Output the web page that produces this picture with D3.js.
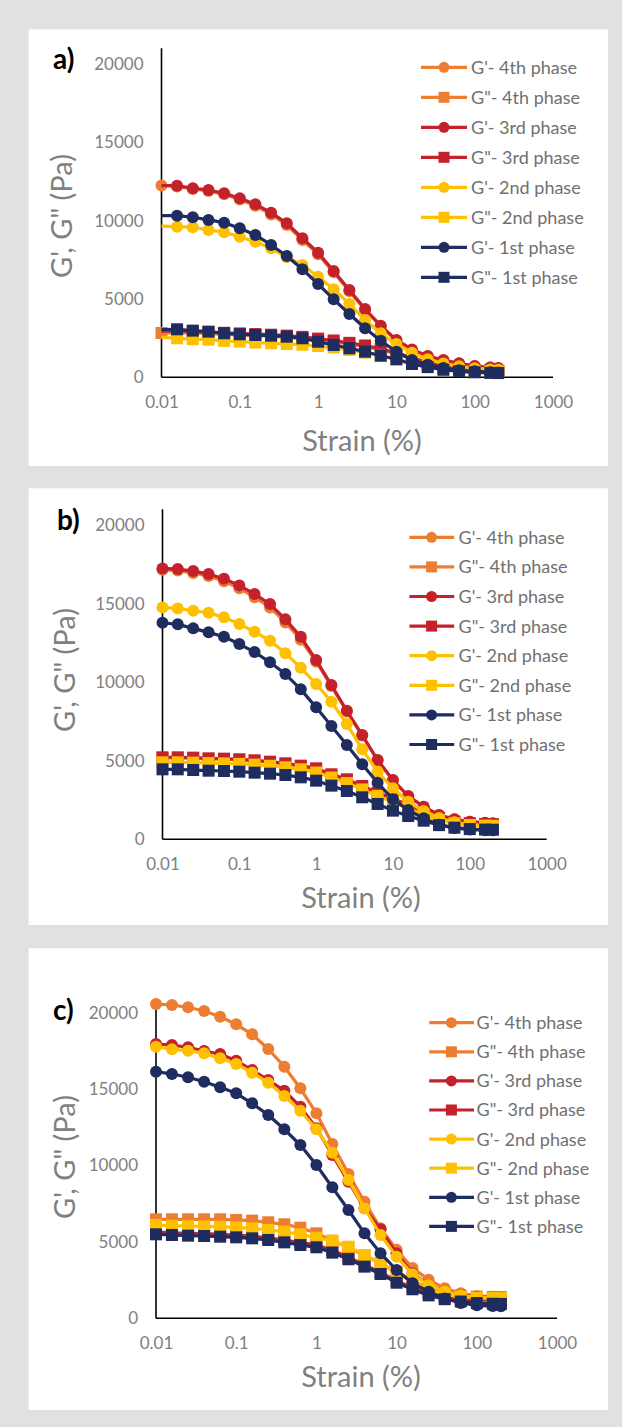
<!DOCTYPE html>
<html>
<head>
<meta charset="utf-8">
<script src="https://cdn.jsdelivr.net/npm/d3@7"></script>
<style>
  html, body { margin: 0; padding: 0; background: #e0e1e3; }
  svg { display: block; }
</style>
</head>
<body>
<svg id="fig" width="622" height="1427"></svg>
<script>
// Strain sweep points (%): five per decade from 0.01 up to 158, plus the final 200
const strain = [0.01, 0.0158, 0.0251, 0.0398, 0.0631, 0.1, 0.158, 0.251, 0.398, 0.631,
                1, 1.58, 2.51, 3.98, 6.31, 10, 15.8, 25.1, 39.8, 63.1, 100, 158, 200];

const seriesNames = ["G'- 4th phase", "G\"- 4th phase", "G'- 3rd phase", "G\"- 3rd phase",
                     "G'- 2nd phase", "G\"- 2nd phase", "G'- 1st phase", "G\"- 1st phase"];

const xTickValues = [0.01, 0.1, 1, 10, 100, 1000];
const xTickLabels = ["0.01", "0.1", "1", "10", "100", "1000"];
const yTickValues = [0, 5000, 10000, 15000, 20000];

// ---- Panel a (Pa) ----
const a_Gp_4th  = [12250, 12180, 12020, 11900, 11680, 11350, 10950, 10400, 9720, 8760, 7850, 6700, 5500, 4300, 3250, 2350, 1750, 1340, 1080, 880, 700, 620, 580];
const a_Gpp_4th = [2830, 2850, 2820, 2780, 2740, 2700, 2660, 2620, 2560, 2490, 2390, 2270, 2120, 1950, 1750, 1500, 1200, 920, 700, 550, 470, 430, 410];
const a_Gp_3rd  = [12235, 12235, 12069, 11960, 11750, 11430, 11047, 10511, 9834, 8876, 7957, 6788, 5575, 4361, 3295, 2382, 1780, 1360, 1100, 900, 720, 630, 590];
const a_Gpp_3rd = [2950, 2960, 2930, 2890, 2840, 2800, 2760, 2720, 2660, 2580, 2470, 2350, 2200, 2030, 1820, 1560, 1250, 950, 720, 560, 470, 420, 400];
const a_Gp_2nd  = [9650, 9617, 9578, 9406, 9257, 8978, 8659, 8233, 7663, 7171, 6424, 5619, 4681, 3659, 2810, 2126, 1571, 1150, 880, 700, 580, 500, 480];
const a_Gpp_2nd = [2550, 2490, 2430, 2400, 2330, 2280, 2220, 2170, 2130, 2080, 2000, 1900, 1750, 1580, 1380, 1150, 920, 720, 560, 450, 400, 380, 370];
const a_Gp_1st  = [10319, 10319, 10217, 10045, 9872, 9515, 9087, 8448, 7746, 6896, 5958, 4979, 4042, 3129, 2337, 1635, 1100, 800, 600, 450, 380, 330, 310];
const a_Gpp_1st = [3050, 3065, 2979, 2915, 2810, 2746, 2701, 2657, 2593, 2490, 2273, 2063, 1852, 1635, 1379, 1149, 849, 650, 480, 380, 320, 280, 270];

// ---- Panel b (Pa) ----
const b_Gp_4th  = [17150, 17100, 16950, 16750, 16420, 15980, 15400, 14750, 13800, 12700, 11300, 9750, 8130, 6600, 5020, 3760, 2740, 2070, 1540, 1270, 1110, 1040, 1010];
const b_Gpp_4th = [5180, 5180, 5160, 5120, 5100, 5060, 5000, 4910, 4800, 4650, 4480, 4100, 3780, 3360, 2940, 2580, 2130, 1690, 1340, 1110, 1010, 970, 950];
const b_Gp_3rd  = [17239, 17195, 17068, 16876, 16578, 16158, 15604, 14968, 13995, 12888, 11406, 9816, 8183, 6635, 5045, 3773, 2754, 2078, 1546, 1272, 1120, 1050, 1020];
const b_Gpp_3rd = [5216, 5216, 5195, 5152, 5131, 5089, 5025, 4940, 4834, 4686, 4517, 4135, 3817, 3392, 2968, 2608, 2150, 1700, 1350, 1120, 1020, 980, 960];
const b_Gp_2nd  = [14758, 14694, 14542, 14415, 14122, 13696, 13206, 12634, 11832, 10916, 9879, 8753, 7335, 5725, 4300, 3244, 2392, 1800, 1350, 1080, 930, 870, 850];
const b_Gpp_2nd = [4900, 4900, 4880, 4850, 4830, 4800, 4750, 4680, 4580, 4450, 4250, 3930, 3580, 3170, 2760, 2380, 1960, 1560, 1220, 1010, 910, 870, 860];
const b_Gp_1st  = [13779, 13677, 13422, 13168, 12888, 12424, 11915, 11260, 10515, 9542, 8397, 7207, 5999, 4771, 3600, 2544, 1864, 1336, 930, 720, 620, 580, 570];
const b_Gpp_1st = [4453, 4453, 4408, 4366, 4345, 4303, 4240, 4176, 4091, 3944, 3732, 3414, 3075, 2672, 2248, 1823, 1482, 1185, 900, 740, 650, 620, 610];

// ---- Panel c (Pa) ----
const c_Gp_4th  = [20569, 20504, 20353, 20111, 19738, 19241, 18586, 17624, 16466, 15052, 13416, 11407, 9444, 7631, 5890, 4490, 3290, 2530, 1960, 1640, 1450, 1400, 1380];
const c_Gpp_4th = [6479, 6479, 6479, 6479, 6479, 6435, 6391, 6283, 6152, 5930, 5563, 5078, 4646, 4100, 3599, 3050, 2450, 1980, 1650, 1480, 1420, 1400, 1390];
const c_Gp_3rd  = [17952, 17887, 17736, 17494, 17298, 16860, 16249, 15595, 14895, 13848, 12435, 10687, 8940, 7199, 5825, 4254, 2945, 2200, 1750, 1500, 1400, 1350, 1330];
const c_Gpp_3rd = [5650, 5600, 5560, 5540, 5490, 5450, 5380, 5270, 5120, 4950, 4800, 4450, 4000, 3500, 3000, 2450, 2000, 1650, 1400, 1250, 1200, 1180, 1170];
const c_Gp_2nd  = [17779, 17605, 17517, 17343, 17016, 16643, 16075, 15419, 14548, 13587, 12369, 10838, 9051, 7199, 5452, 4035, 2890, 2180, 1750, 1500, 1350, 1300, 1290];
const c_Gpp_2nd = [6106, 6060, 6040, 6020, 5995, 5951, 5890, 5779, 5668, 5497, 5275, 5078, 4686, 4143, 3599, 2945, 2400, 1900, 1560, 1400, 1350, 1330, 1320];
const c_Gp_1st  = [16139, 15988, 15772, 15484, 15118, 14725, 14071, 13305, 12369, 11342, 10033, 8573, 7088, 5563, 4254, 3161, 2291, 1745, 1300, 1000, 850, 800, 790];
const c_Gpp_1st = [5497, 5452, 5408, 5386, 5342, 5299, 5234, 5124, 4970, 4795, 4646, 4297, 3861, 3381, 2900, 2330, 1898, 1500, 1250, 1100, 1000, 950, 940];

// Series styling, in legend / drawing order (later series are painted on top)
const seriesColors  = ["#ED7D31", "#ED7D31", "#C3212B", "#C3212B", "#FFC000", "#FFC000", "#1E2C60", "#1E2C60"];
const seriesMarkers = ["circle", "square", "circle", "square", "circle", "square", "circle", "square"];

const panels = [
  { tag: "a)", series: [a_Gp_4th, a_Gpp_4th, a_Gp_3rd, a_Gpp_3rd, a_Gp_2nd, a_Gpp_2nd, a_Gp_1st, a_Gpp_1st],
    firstMarker: [0, 0, 1, 1, 1, 1, 1, 1],
    box: [28.6, 29.3, 579.4, 436.7],
    xRange: [161.5, 553], y0: 377.3, y20k: 64, yTop: 21000,
    tagPos: [53, 69], yTitle: [61.5, 216], xTitle: [362, 441],
    legend: { x1: 421, x2: 467, mx: 444, tx: 471, y0: 67.3, dy: 30 } },
  { tag: "b)", series: [b_Gp_4th, b_Gpp_4th, b_Gp_3rd, b_Gpp_3rd, b_Gp_2nd, b_Gpp_2nd, b_Gp_1st, b_Gpp_1st],
    firstMarker: [0, 0, 0, 0, 0, 0, 0, 0],
    box: [28.6, 488.3, 579.4, 436.7],
    xRange: [162.5, 546.6], y0: 839.3, y20k: 525, yTop: 21000,
    tagPos: [57, 530], yTitle: [65, 670], xTitle: [361, 898],
    legend: { x1: 409.4, x2: 454.2, mx: 431.6, tx: 458.5, y0: 537.3, dy: 29.6 } },
  { tag: "c)", series: [c_Gp_4th, c_Gpp_4th, c_Gp_3rd, c_Gpp_3rd, c_Gp_2nd, c_Gpp_2nd, c_Gp_1st, c_Gpp_1st],
    firstMarker: [0, 0, 0, 0, 0, 0, 0, 0],
    box: [28.6, 948.3, 579.4, 461.7],
    xRange: [156, 557], y0: 1318.3, y20k: 1012.7, yTop: 20800,
    tagPos: [53, 1020], yTitle: [65, 1157], xTitle: [361, 1377],
    legend: { x1: 429.2, x2: 474, mx: 451.4, tx: 476.5, y0: 1022.7, dy: 29.1 } }
];

const FONT = "Lato, 'Open Sans', sans-serif";
const svg = d3.select("#fig");

function drawMarker(g, shape, cx, cy, color, r) {
  if (shape === "circle") {
    g.append("circle").attr("cx", cx).attr("cy", cy).attr("r", r).attr("fill", color);
  } else {
    g.append("rect").attr("x", cx - r).attr("y", cy - r)
      .attr("width", 2 * r).attr("height", 2 * r).attr("fill", color);
  }
}

panels.forEach(p => {
  const [bx, by, bw, bh] = p.box;
  svg.append("rect").attr("x", bx).attr("y", by).attr("width", bw).attr("height", bh).attr("fill", "#ffffff");

  const x = d3.scaleLog().domain([0.01, 1000]).range(p.xRange);
  const y = d3.scaleLinear().domain([0, 20000]).range([p.y0, p.y20k]);
  const g = svg.append("g");

  // y tick labels
  const yAxis = g.append("g").attr("transform", `translate(${x(0.01)},0)`)
    .call(d3.axisLeft(y).tickValues(yTickValues).tickSize(0).tickPadding(18).tickFormat(d3.format("d")));
  yAxis.select(".domain").remove();
  yAxis.selectAll("text").attr("font-family", FONT).attr("font-size", 17).attr("fill", "#808080");

  // x tick labels
  const xAxis = g.append("g").attr("transform", `translate(0,${y(0)})`)
    .call(d3.axisBottom(x).tickValues(xTickValues).tickSize(0).tickPadding(19)
      .tickFormat((d, i) => xTickLabels[i]));
  xAxis.select(".domain").remove();
  xAxis.selectAll("text").attr("font-family", FONT).attr("font-size", 17).attr("fill", "#808080");

  // axis lines
  g.append("line").attr("x1", x(0.01)).attr("x2", x(0.01)).attr("y1", y(0)).attr("y2", y(p.yTop))
    .attr("stroke", "#000").attr("stroke-width", 1.6);
  g.append("line").attr("x1", x(0.01)).attr("x2", x(1000)).attr("y1", y(0)).attr("y2", y(0))
    .attr("stroke", "#000").attr("stroke-width", 1.6);

  // data series
  const line = d3.line().x((d, i) => x(strain[i])).y(d => y(d));
  p.series.forEach((vals, s) => {
    const color = seriesColors[s];
    const sg = g.append("g");
    sg.append("path").datum(vals).attr("d", line).attr("fill", "none")
      .attr("stroke", color).attr("stroke-width", 3.2).attr("stroke-linejoin", "round");
    vals.forEach((v, i) => {
      if (i < p.firstMarker[s]) return;
      drawMarker(sg, seriesMarkers[s], x(strain[i]), y(v), color, 6);
    });
  });

  // legend
  const L = p.legend;
  seriesNames.forEach((name, s) => {
    const ly = L.y0 + s * L.dy;
    const lg = g.append("g");
    lg.append("line").attr("x1", L.x1).attr("x2", L.x2).attr("y1", ly).attr("y2", ly)
      .attr("stroke", seriesColors[s]).attr("stroke-width", 3.2);
    drawMarker(lg, seriesMarkers[s], L.mx, ly, seriesColors[s], 5.5);
    lg.append("text").attr("x", L.tx).attr("y", ly).attr("dy", "0.36em")
      .attr("font-family", FONT).attr("font-size", 18).attr("fill", "#707070").text(name);
  });

  // axis titles
  g.append("text").attr("x", p.xTitle[0]).attr("y", p.xTitle[1]).attr("dy", "0.36em")
    .attr("text-anchor", "middle").attr("font-family", FONT).attr("font-size", 29)
    .attr("fill", "#808080").text("Strain (%)");
  g.append("text").attr("transform", `translate(${p.yTitle[0]},${p.yTitle[1]}) rotate(-90)`)
    .attr("dy", "0.36em").attr("text-anchor", "middle").attr("font-family", FONT)
    .attr("font-size", 29).attr("fill", "#808080").text("G', G\" (Pa)");

  // panel tag
  g.append("text").attr("x", p.tagPos[0]).attr("y", p.tagPos[1])
    .attr("font-family", FONT).attr("font-weight", "bold").attr("font-size", 28)
    .attr("fill", "#000").text(p.tag);
});
</script>
</body>
</html>
